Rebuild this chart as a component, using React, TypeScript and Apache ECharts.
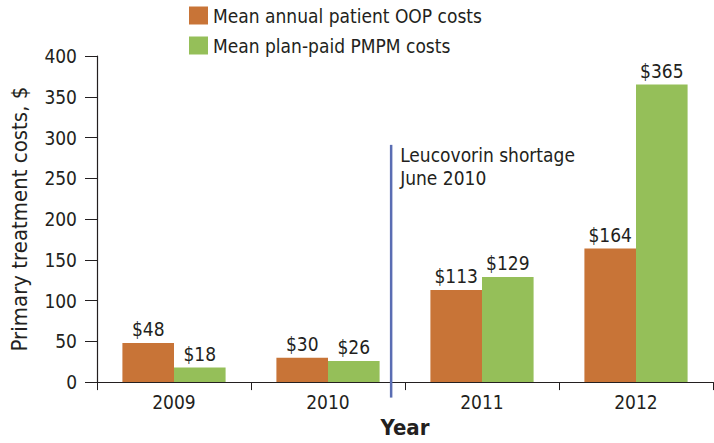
import React, { useEffect, useRef } from "react";
import * as echarts from "echarts";

const categories = ["2009", "2010", "2011", "2012"];
const oopCosts = [48, 30, 113, 164];
const planCosts = [18, 26, 129, 365];
const seriesNames = ["Mean annual patient OOP costs", "Mean plan-paid PMPM costs"];
const shortagePos = 1.91;
const shortageLine = [[shortagePos, -19], [shortagePos, 291]];
const shortageText = "Leucovorin shortage\nJune 2010";

const FONT = "'DejaVu Sans Condensed', 'Liberation Sans', sans-serif";
const TXT = "#231f20";

export default function App() {
  const ref = useRef<HTMLDivElement>(null);
  useEffect(() => {
    const chart = echarts.init(ref.current!, null, { renderer: "svg" });
    const barLabel = {
      show: true,
      position: "top",
      distance: 4,
      fontFamily: FONT,
      fontSize: 19,
      color: TXT,
      formatter: (p: any) => "$" + p.value,
    };
    chart.setOption({
      animation: false,
      textStyle: { fontFamily: FONT, color: TXT },
      legend: {
        orient: "vertical",
        left: 184,
        top: 1,
        itemWidth: 19,
        itemHeight: 18,
        itemGap: 11,
        icon: "rect",
        textStyle: { fontFamily: FONT, fontSize: 19, color: TXT },
        data: seriesNames,
      },
      grid: { left: 90, right: 1, top: 56, bottom: 51, containLabel: false },
      xAxis: [
        {
          type: "category",
          data: categories,
          name: "Year",
          nameLocation: "middle",
          nameGap: 30,
          nameTextStyle: { fontFamily: FONT, fontSize: 22, color: TXT, fontWeight: "bold" },
          axisLine: { lineStyle: { color: TXT, width: 1.2 } },
          axisTick: { show: true, length: 8, lineStyle: { color: TXT } },
          axisLabel: { fontFamily: FONT, fontSize: 19, color: TXT, margin: 10 },
        },
        { type: "value", min: 0, max: 4, show: false },
      ],
      yAxis: {
        type: "value",
        min: 0,
        max: 400,
        interval: 50,
        name: "Primary treatment costs, $",
        nameLocation: "middle",
        nameGap: 67,
        nameTextStyle: { fontFamily: FONT, fontSize: 22, color: TXT },
        axisLine: { show: true, lineStyle: { color: TXT, width: 1.2 } },
        axisTick: { show: true, length: 12, lineStyle: { color: TXT } },
        axisLabel: { fontFamily: FONT, fontSize: 19, color: TXT, margin: 20 },
        splitLine: { show: false },
      },
      series: [
        {
          name: seriesNames[0],
          type: "bar",
          data: oopCosts,
          barGap: "0%",
          barCategoryGap: "33%",
          itemStyle: { color: "#c87437" },
          label: barLabel,
        },
        {
          name: seriesNames[1],
          type: "bar",
          data: planCosts,
          barGap: "0%",
          barCategoryGap: "33%",
          itemStyle: { color: "#95bf59" },
          label: barLabel,
        },
        {
          type: "line",
          xAxisIndex: 1,
          clip: false,
          symbol: "circle",
          symbolSize: 0,
          showSymbol: true,
          silent: true,
          lineStyle: { color: "#5a6db3", width: 2.5 },
          label: { show: false },
          data: [
            shortageLine[0],
            {
              value: shortageLine[1],
              label: {
                show: true,
                position: "right",
                offset: [4, 22],
                align: "left",
                fontFamily: FONT,
                fontSize: 19,
                lineHeight: 23,
                color: TXT,
                formatter: shortageText,
              },
            },
          ],
        },
      ],
    });
    return () => chart.dispose();
  }, []);
  return <div ref={ref} style={{ width: 714, height: 443, position: "absolute", left: 0, top: 0 }} />;
}
